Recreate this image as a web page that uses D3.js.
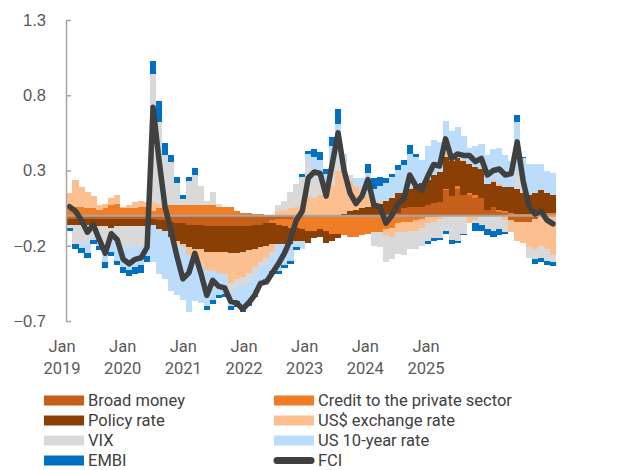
<!DOCTYPE html>
<html lang="en">
<head>
<meta charset="UTF-8">
<title>FCI contributions</title>
<script src="https://d3js.org/d3.v7.min.js"></script>
<style>
  body { margin: 0; background: #fff; }
  svg { display: block; font-family: Roboto, "Noto Sans", sans-serif; }
  .tick text { fill: #595959; font-size: 16.5px; }
  .legend text { fill: #404040; font-size: 16.5px; }
</style>
</head>
<body>
<div id="chart"></div>
<script>
// monthly categories, Jan 2019 .. Oct 2025
const months = d3.timeMonth.range(new Date(2019, 0, 1), new Date(2025, 10, 1));
const yearLabels = ["2019", "2020", "2021", "2022", "2023", "2024", "2025"];
const yTicks = [-0.7, -0.2, 0.3, 0.8, 1.3];

// contributions
const broadMoney = [-0.02,-0.02,-0.02,-0.02,-0.02,-0.02,-0.02,-0.02,-0.02,-0.02,-0.02,-0.02,-0.02,-0.02,
  -0.02,-0.03,-0.03,-0.04,-0.05,-0.05,-0.06,-0.06,-0.06,-0.07,-0.07,-0.07,-0.07,-0.07,
  -0.07,-0.07,-0.07,-0.06,-0.06,-0.05,-0.03,-0.02,-0.02,-0.02,-0.01,-0.01,
  0,-0.01,0,0,0,0,0,0,0,0,0,0,0,0,
  0,0.02,0.05,0.06,0.06,0.06,0.07,0.085,0.09,0.17,0.13,0.18,0.135,0.14,0.12,0.12,0.04,0.06,0.025,0.02,
  -0.03,-0.04,-0.04,-0.04,-0.02,0,0,0];
const credit = [0.05,0.06,0.06,0.05,0.05,0.04,0.05,0.07,0.08,0.05,0.05,0.05,0.06,0.06,
  0.03,0.05,0.06,0.07,0.07,0.07,0.07,0.07,0.07,0.07,0.07,0.06,0.06,0.06,
  0.03,0.02,0.02,0.01,0.01,0,-0.02,-0.04,-0.05,-0.06,-0.07,-0.08,
  -0.10,-0.09,-0.09,-0.10,-0.12,-0.12,-0.13,-0.14,-0.14,-0.13,-0.12,-0.11,-0.11,-0.09,
  -0.08,-0.05,-0.04,-0.04,-0.03,-0.02,-0.01,-0.01,0,0.01,0,0.02,0,0.01,0.015,0,0,0,0.01,0.01,
  0.02,0.01,0.01,0.01,0.01,0.02,0.02,0.02];
const policyRate = [-0.04,-0.04,-0.045,-0.045,-0.05,-0.05,-0.05,-0.06,-0.05,-0.05,-0.05,-0.05,-0.05,-0.05,
  -0.04,-0.06,-0.07,-0.10,-0.12,-0.14,-0.15,-0.16,-0.16,-0.17,-0.17,-0.17,-0.17,-0.18,
  -0.18,-0.17,-0.16,-0.16,-0.15,-0.15,-0.14,-0.13,-0.12,-0.11,-0.09,-0.08,
  -0.08,-0.05,-0.05,-0.08,-0.05,-0.03,0.01,0.03,0.04,0.05,0.06,0.07,0.08,0.10,
  0.12,0.13,0.10,0.12,0.15,0.16,0.17,0.185,0.20,0.21,0.23,0.18,0.225,0.19,0.19,0.19,0.17,0.165,0.165,0.16,
  0.17,0.17,0.14,0.13,0.14,0.15,0.13,0.12];
const usdRate = [0.10,0.18,0.13,0.11,0.08,0.03,0.03,0.05,0.06,0.01,0.02,0.04,0.04,0.03,
  0.06,0.03,0.02,0,-0.02,-0.02,-0.05,-0.08,-0.10,-0.12,-0.13,-0.14,-0.15,-0.20,
  -0.17,-0.17,-0.15,-0.12,-0.10,-0.08,-0.05,0.03,0.04,0.05,0.06,0.08,
  0.13,0.12,0.14,0.14,0.20,0.30,0.28,0.20,0.16,0.10,0.08,0.03,0.01,-0.04,
  -0.06,-0.06,-0.07,-0.06,-0.07,-0.06,-0.04,-0.03,-0.02,0.02,0.01,0,0.01,-0.05,-0.03,0,0,0.01,0.01,-0.03,
  -0.08,-0.13,-0.14,-0.17,-0.20,-0.20,-0.22,-0.26];
const vix = [-0.02,-0.13,-0.12,-0.13,-0.08,-0.10,-0.15,-0.08,-0.10,-0.14,-0.15,-0.13,-0.14,-0.12,
  0.85,0.54,0.32,0.285,0.15,0.04,0.16,0.20,0.13,0.03,0.09,0.02,-0.02,-0.05,
  -0.05,-0.06,-0.06,-0.05,-0.03,-0.04,-0.02,0.04,0.06,0.11,0.15,0.18,
  0.23,0.19,0.10,0.06,0.12,0.15,0.05,0.04,0,0,0,-0.09,-0.10,-0.18,
  -0.15,-0.145,-0.15,-0.12,-0.12,-0.12,-0.12,-0.11,-0.13,-0.10,-0.16,-0.17,-0.12,0,-0.02,-0.06,-0.09,-0.10,-0.09,-0.08,
  0,0.11,0.03,-0.07,-0.07,-0.08,-0.08,-0.05];
const us10y = [0,0,-0.03,-0.055,-0.01,-0.03,-0.09,-0.08,-0.13,-0.13,-0.14,-0.14,-0.12,-0.08,
  -0.25,-0.30,-0.32,-0.36,-0.34,-0.35,-0.38,-0.265,-0.26,-0.24,-0.19,-0.15,-0.11,-0.10,
  -0.10,-0.14,-0.14,-0.13,-0.10,-0.10,-0.11,-0.18,-0.14,-0.11,-0.04,-0.05,
  0.05,0.08,0.13,0.08,0.14,0.16,0.07,0,0.05,0.10,0.145,0.08,0.11,0.12,
  0.14,0.155,0.185,0.23,0.18,0.15,0.22,0.23,0.20,0.22,0.19,0.21,0.16,0.11,0.135,0.165,0.19,0.205,0.24,0.21,
  0.17,0.335,0.20,0.20,0.19,0.17,0.15,0.145];
const embi = [-0.02,-0.03,-0.03,-0.03,-0.03,-0.03,-0.04,-0.03,-0.03,-0.04,-0.04,-0.05,-0.05,-0.04,
  0.09,0.14,0.08,0.045,0.04,0.03,0.03,0.045,0,-0.03,-0.03,-0.02,-0.02,-0.03,
  -0.04,-0.03,-0.02,-0.02,-0.02,-0.02,-0.02,-0.02,-0.02,-0.02,-0.02,0.02,
  0.02,0.05,0.05,0.03,0.06,0.10,0,0,0,0,0.055,0.07,0.06,0.03,
  0.02,0.03,0.035,0.06,0.02,0,-0.02,-0.02,-0.01,-0.02,-0.03,-0.01,-0.01,0,-0.05,-0.04,-0.04,-0.04,-0.04,-0.01,
  0,0.045,0.01,0,-0.03,-0.03,-0.03,-0.025];
const fci = [0.06,0.03,-0.03,-0.11,-0.06,-0.16,-0.25,-0.12,-0.16,-0.29,-0.32,-0.29,-0.28,-0.21,
  0.72,0.37,0.06,-0.10,-0.27,-0.42,-0.38,-0.25,-0.38,-0.53,-0.43,-0.47,-0.48,-0.57,
  -0.58,-0.62,-0.58,-0.53,-0.45,-0.44,-0.38,-0.32,-0.25,-0.16,-0.03,0.03,
  0.25,0.29,0.28,0.13,0.34,0.55,0.30,0.15,0.08,0.13,0.24,0.07,0.06,-0.05,
  0.0,0.08,0.11,0.27,0.20,0.17,0.26,0.34,0.33,0.51,0.38,0.41,0.40,0.40,0.36,0.38,0.27,0.30,0.31,0.27,
  0.28,0.49,0.23,0.06,0.01,0.03,-0.03,-0.055];

const series = [
  { key: "bm",   name: "Broad money",                  values: broadMoney, color: "#C55F1A" },
  { key: "cr",   name: "Credit to the private sector", values: credit,     color: "#EE7D26" },
  { key: "pr",   name: "Policy rate",                  values: policyRate, color: "#8A4005" },
  { key: "fx",   name: "US$ exchange rate",            values: usdRate,    color: "#FCBF90" },
  { key: "vix",  name: "VIX",                          values: vix,        color: "#D9D9D9" },
  { key: "us10", name: "US 10-year rate",              values: us10y,      color: "#BBDCFB" },
  { key: "embi", name: "EMBI",                         values: embi,       color: "#0070C0" }
];

const width = 617, height = 470;
const svg = d3.select("#chart").append("svg")
  .attr("width", width).attr("height", height);

const x = d3.scaleBand().domain(d3.range(months.length)).range([66.5, 556]).padding(0);
const y = d3.scaleLinear().domain([-0.7, 1.3]).range([321, 20]);
const xLabel = d3.scalePoint().domain(yearLabels).range([62, 426]);

// stacked rows
const rows = months.map((m, i) => {
  const r = { date: m };
  series.forEach(s => r[s.key] = s.values[i]);
  return r;
});
const stacked = d3.stack()
  .keys(series.map(s => s.key))
  .offset(d3.stackOffsetDiverging)(rows);

svg.append("g")
  .attr("shape-rendering", "crispEdges")
  .selectAll("g")
  .data(stacked)
  .join("g")
  .attr("fill", (d, i) => series[i].color)
  .selectAll("rect")
  .data(d => d)
  .join("rect")
  .attr("x", (d, i) => x(i))
  .attr("width", x.bandwidth() + 0.2)
  .attr("y", d => y(Math.max(d[0], d[1])))
  .attr("height", d => Math.abs(y(d[0]) - y(d[1])));

// zero line
svg.append("line")
  .attr("x1", 66).attr("x2", 556)
  .attr("y1", y(0)).attr("y2", y(0))
  .attr("stroke", "#A6A6A6").attr("stroke-width", 2);

// FCI line
svg.append("path")
  .datum(fci)
  .attr("fill", "none")
  .attr("stroke", "#404040")
  .attr("stroke-width", 5.5)
  .attr("stroke-linejoin", "round")
  .attr("stroke-linecap", "round")
  .attr("d", d3.line()
    .x((d, i) => x(i) + x.bandwidth() / 2)
    .y(d => y(d)));

// y axis
const yAxis = svg.append("g")
  .attr("transform", "translate(66,0)")
  .call(d3.axisLeft(y).tickValues(yTicks).tickSize(-5).tickSizeOuter(0).tickPadding(20)
    .tickFormat(d3.format(".1f")));
yAxis.select(".domain").attr("stroke", "#A6A6A6").attr("stroke-width", 1.5);
yAxis.selectAll(".tick line").attr("stroke", "#A6A6A6").attr("stroke-width", 1.5);

// x labels
const xl = svg.append("g").attr("class", "tick");
yearLabels.forEach(yr => {
  const t = xl.append("text").attr("text-anchor", "middle").attr("fill", "#595959");
  t.append("tspan").attr("x", xLabel(yr)).attr("y", 352).text("Jan");
  t.append("tspan").attr("x", xLabel(yr)).attr("y", 374).text(yr);
});

// legend
const legendItems = [
  { name: "Broad money", color: "#C55F1A", col: 0, row: 0 },
  { name: "Policy rate", color: "#8A4005", col: 0, row: 1 },
  { name: "VIX", color: "#D9D9D9", col: 0, row: 2 },
  { name: "EMBI", color: "#0070C0", col: 0, row: 3 },
  { name: "Credit to the private sector", color: "#EE7D26", col: 1, row: 0 },
  { name: "US$ exchange rate", color: "#FCBF90", col: 1, row: 1 },
  { name: "US 10-year rate", color: "#BBDCFB", col: 1, row: 2 },
  { name: "FCI", color: "#404040", col: 1, row: 3, line: true }
];
const legend = svg.append("g").attr("class", "legend");
const colX = [44, 274];
legendItems.forEach(it => {
  const lx = colX[it.col], ly = 400.5 + it.row * 20;
  if (it.line) {
    legend.append("line").attr("x1", lx + 3).attr("x2", lx + 37)
      .attr("y1", ly).attr("y2", ly)
      .attr("stroke", it.color).attr("stroke-width", 7).attr("stroke-linecap", "round");
  } else {
    legend.append("rect").attr("x", lx).attr("y", ly - 5).attr("width", 40).attr("height", 10)
      .attr("fill", it.color);
  }
  legend.append("text").attr("x", lx + 44).attr("y", ly + 5.5).text(it.name);
});
</script>
</body>
</html>
